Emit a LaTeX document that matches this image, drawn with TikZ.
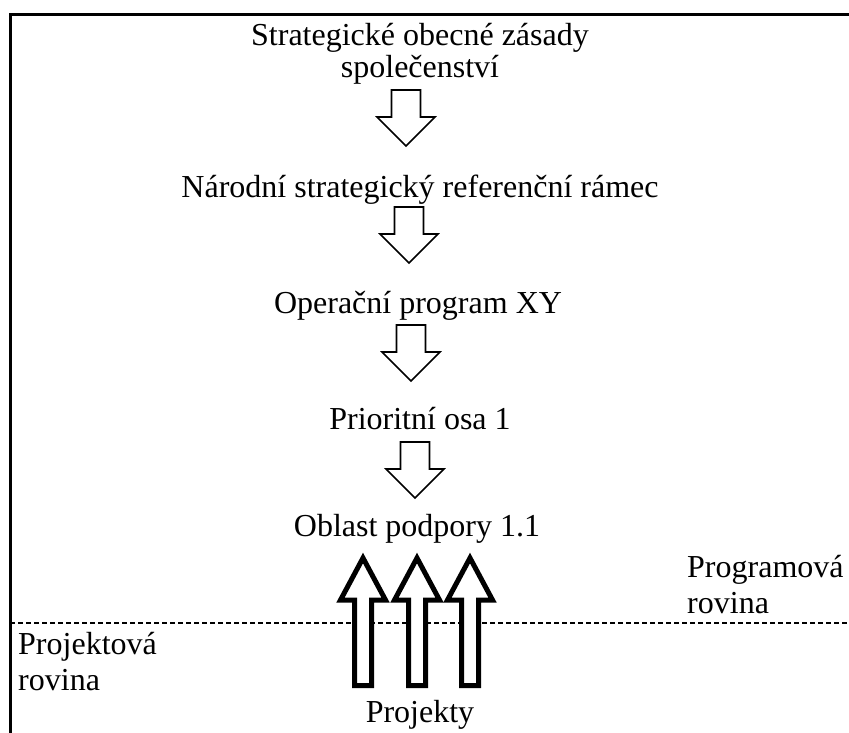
\documentclass[tikz,border=0pt]{standalone}
\usepackage{fontspec}
\setmainfont{Liberation Serif}
\tikzstyle{level} = [font=\fontsize{32}{32}\selectfont, inner sep=0pt, anchor=base, align=center]
\tikzstyle{side} = [font=\fontsize{32}{36}\selectfont, inner sep=0pt, anchor=base west, align=left]
\tikzstyle{thinblock} = [draw=black, fill=white, line width=1.6pt, line join=miter]
\tikzstyle{thickblock} = [draw=black, fill=white, line width=5pt, line join=miter]

\begin{document}
\begin{tikzpicture}[x=1pt,y=-1pt]
	\useasboundingbox (0,0) rectangle (849,733);
	% frame and dividing line
	\draw[line width=3pt] (10,740) -- (10,15) -- (855,15);
	\draw[line width=1.3pt, dash pattern=on 5pt off 3pt] (10,623) -- (849,623);
	% levels
	\node[level] (sos) at (420,78) {Strategické obecné zásady\\společenství};
	\node[level] (nsrr) at (420,197) {Národní strategický referenční rámec};
	\node[level] (op) at (418,313) {Operační program XY};
	\node[level] (po) at (420,429) {Prioritní osa 1};
	\node[level] (opp) at (417,536) {Oblast podpory 1.1};
	\node[level] (proj) at (420,722) {Projekty};
	\node[side] (prgr) at (687,613) {Programová\\rovina};
	\node[side] (prjr) at (18,690) {Projektová\\rovina};
	% downward arrows
	\foreach \x/\y in {406/90,409/207,411/325,415/442}
	\draw[thinblock] (\x-14.5,\y) -- (\x+14.5,\y) -- (\x+14.5,\y+27) -- (\x+29,\y+27)
		-- (\x,\y+56) -- (\x-29,\y+27) -- (\x-14.5,\y+27) -- cycle;
	% upward arrows from projects
	\foreach \x in {363,417,470}
	\draw[thickblock] (\x-8.5,685.5) -- (\x-8.5,600) -- (\x-22.5,600) -- (\x,558)
		-- (\x+22.5,600) -- (\x+8.5,600) -- (\x+8.5,685.5) -- cycle;
\end{tikzpicture}
\end{document}
